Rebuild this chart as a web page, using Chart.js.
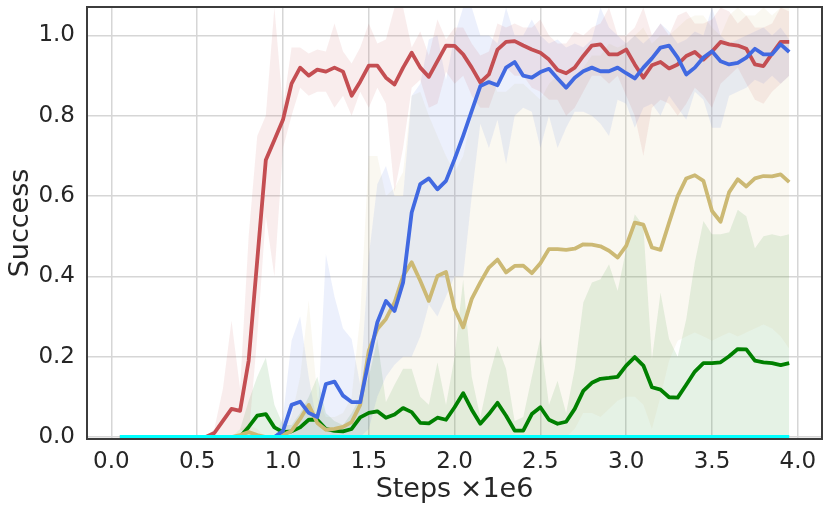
<!DOCTYPE html>
<html>
<head>
<meta charset="utf-8">
<script src="https://cdn.jsdelivr.net/npm/chart.js@4.4.1/dist/chart.umd.min.js"></script>
<style>
  body { margin: 0; background: #fff; }
</style>
</head>
<body>
<canvas id="myChart" width="830" height="511"></canvas>
<script>
// training steps (x1e6)
const steps = [0.05,0.10,0.15,0.20,0.25,0.30,0.35,0.40,0.45,0.50,
  0.55,0.60,0.65,0.70,0.75,0.80,0.85,0.90,0.95,1.00,
  1.05,1.10,1.15,1.20,1.25,1.30,1.35,1.40,1.45,1.50,
  1.55,1.60,1.65,1.70,1.75,1.80,1.85,1.90,1.95,2.00,
  2.05,2.10,2.15,2.20,2.25,2.30,2.35,2.40,2.45,2.50,
  2.55,2.60,2.65,2.70,2.75,2.80,2.85,2.90,2.95,3.00,
  3.05,3.10,3.15,3.20,3.25,3.30,3.35,3.40,3.45,3.50,
  3.55,3.60,3.65,3.70,3.75,3.80,3.85,3.90,3.95];

const xTicks = [0, 0.5, 1, 1.5, 2, 2.5, 3, 3.5, 4];
const yTicks = [0, 0.2, 0.4, 0.6, 0.8, 1.0];

// mean success per run
const redMean = [0,0,0,0,0,0,0,0,0,0,0,0.01,0.04,0.07,0.065,0.19,0.44,0.69,0.74,0.79,
  0.88,0.92,0.90,0.915,0.91,0.92,0.91,0.85,0.885,0.925,
  0.925,0.895,0.878,0.92,0.957,0.92,0.897,0.936,0.975,0.974,
  0.953,0.92,0.883,0.903,0.965,0.984,0.986,0.975,0.965,0.957,
  0.94,0.914,0.906,0.92,0.949,0.975,0.978,0.953,0.953,0.965,
  0.928,0.895,0.926,0.934,0.918,0.928,0.949,0.959,0.94,0.96,
  0.984,0.978,0.975,0.967,0.928,0.924,0.955,0.984,0.984];
const blueMean = [0,0,0,0,0,0,0,0,0,0,0,0,0,0,0,0,0,0,0,
  0.015,0.08,0.088,0.06,0.05,0.132,0.138,0.103,0.087,0.087,0.19,
  0.286,0.339,0.314,0.385,0.559,0.63,0.644,0.617,0.638,0.692,
  0.75,0.812,0.874,0.884,0.876,0.92,0.934,0.9,0.895,0.909,
  0.917,0.893,0.87,0.895,0.911,0.92,0.911,0.911,0.92,0.906,
  0.893,0.92,0.943,0.97,0.975,0.945,0.903,0.92,0.945,0.961,
  0.936,0.928,0.932,0.945,0.967,0.953,0.953,0.978,0.959];
const tanMean = [0,0,0,0,0,0,0,0,0,0,0,0,0,0,
  0.005,0.012,0.005,0,0,0.005,
  0.015,0.045,0.08,0.035,0.018,0.02,0.025,0.037,0.08,0.215,
  0.269,0.294,0.335,0.401,0.435,0.389,0.339,0.401,0.411,0.319,
  0.273,0.344,0.385,0.422,0.442,0.41,0.426,0.427,0.408,0.433,
  0.468,0.468,0.466,0.469,0.48,0.479,0.475,0.464,0.447,0.476,
  0.534,0.529,0.472,0.466,0.534,0.6,0.644,0.652,0.638,0.563,
  0.536,0.61,0.642,0.624,0.644,0.65,0.649,0.654,0.635];
const greenMean = [0,0,0,0,0,0,0,0,0,0,0,0,0,0,0,
  0.025,0.053,0.057,0.024,0.012,
  0.014,0.024,0.043,0.043,0.02,0.015,0.014,0.02,0.049,0.06,
  0.064,0.048,0.056,0.072,0.062,0.035,0.034,0.048,0.043,0.074,
  0.109,0.068,0.033,0.057,0.085,0.053,0.016,0.016,0.057,0.074,
  0.043,0.033,0.038,0.07,0.115,0.135,0.145,0.147,0.15,0.178,
  0.199,0.178,0.124,0.118,0.099,0.098,0.13,0.163,0.184,0.184,
  0.186,0.201,0.219,0.218,0.19,0.186,0.184,0.179,0.184];
const cyanMean = [0,0,0,0,0,0,0,0,0,0,0,0,0,0,0,0,0,0,0,0,
  0,0,0,0,0,0,0,0,0,0,0,0,0,0,0,0,0,0,0,0,
  0,0,0,0,0,0,0,0,0,0,0,0,0,0,0,0,0,0,0,0,
  0,0,0,0,0,0,0,0,0,0,0,0,0,0,0,0,0,0,0];

// shaded spread (low / high)
const redLow = [0,0,0,0,0,0,0,0,0,0,0,0,0,0,0.02,0,0.25,0.55,0.4,0.72,
  0.8,0.87,0.85,0.86,0.86,0.82,0.85,0.80,0.86,0.82,
  0.87,0.83,0.61,0.72,0.87,0.89,0.82,0.83,0.91,0.88,
  0.9,0.85,0.82,0.82,0.88,0.92,0.9,0.9,0.87,0.86,
  0.84,0.84,0.8,0.82,0.86,0.9,0.9,0.88,0.9,0.85,
  0.8,0.7,0.82,0.84,0.83,0.8,0.83,0.87,0.85,0.82,
  0.88,0.9,0.92,0.88,0.84,0.83,0.86,0.88,0.9];
const redHigh = [0,0,0,0,0,0,0,0,0,0,0,0.02,0.12,0.29,0.12,0.5,0.75,0.8,1.07,0.82,
  0.97,0.97,0.955,0.965,0.96,1.03,0.96,0.93,0.97,1.03,
  0.98,0.99,1.07,1.07,0.97,1.01,0.95,1.04,0.99,1.02,
  1.02,0.98,0.95,0.96,1.03,1.02,1.03,1.02,1.02,1.04,
  1.0,0.98,0.98,1.01,1.0,1.02,1.03,1.07,1.0,1.0,
  1.02,1.07,1.0,1.03,1.0,1.05,1.06,1.03,1.03,1.04,
  1.07,1.06,1.03,1.05,1.02,1.02,1.03,1.07,1.06];
const blueLow = [0,0,0,0,0,0,0,0,0,0,0,0,0,0,0,0,0,0,0,0,
  0,0,0,0,0,0,0,0,0,0.02,
  0.1,0.15,0.18,0.2,0.2,0.25,0.33,0.3,0.35,0.4,
  0.4,0.6,0.78,0.72,0.79,0.68,0.8,0.82,0.81,0.72,
  0.8,0.72,0.77,0.81,0.81,0.8,0.78,0.75,0.84,0.83,
  0.77,0.82,0.83,0.8,0.85,0.82,0.79,0.86,0.84,0.77,
  0.77,0.85,0.86,0.87,0.89,0.88,0.9,0.88,0.9];
const blueHigh = [0,0,0,0,0,0,0,0,0,0,0,0,0,0,0,0,0,0,0,0.05,
  0.24,0.30,0.15,0.03,0.455,0.35,0.27,0.244,0.13,0.45,
  0.63,0.675,0.6,0.6,0.85,0.88,0.99,1.0,0.89,1.0,
  1.07,1.07,1.0,1.0,0.98,1.07,1.0,1.0,1.04,1.0,
  0.98,0.99,0.97,0.98,0.97,0.99,1.07,1.02,1.0,0.98,
  1.0,0.98,1.0,1.03,1.01,0.98,0.99,1.01,1.0,1.07,
  1.0,0.98,0.99,1.0,1.01,1.02,1.0,1.02,0.99];
const tanLow = [0,0,0,0,0,0,0,0,0,0,0,0,0,0,0,0,0,0,0,0,
  0,0,0,0,0,0,0,0,0,0,0,0,0,0,0,0,0,0,0,0,
  0,0,0,0,0,0,0,0,0,0,0,0,0,0.02,0.06,0.06,0.05,0.07,0.09,0.1,
  0.1,0.08,0.02,0.1,0.19,0.24,0.25,0.26,0.25,0.24,
  0.25,0.26,0.25,0.26,0.27,0.28,0.27,0.25,0.22];
const tanHigh = [0,0,0,0,0,0,0,0,0,0,0,0,0,0,0.02,0.03,0.02,0,0,0.02,
  0.05,0.15,0.34,0.1,0.05,0.05,0.06,0.1,0.3,0.7,
  0.7,0.6,0.62,0.66,0.85,0.86,0.8,0.75,0.7,0.66,
  0.7,0.8,0.88,0.9,0.86,0.86,0.88,0.88,0.86,0.84,
  0.88,0.9,0.88,0.9,0.92,0.95,0.95,0.98,0.97,0.98,
  1.0,1.02,0.98,1.0,1.0,1.02,1.04,1.05,1.05,1.02,
  1.0,1.05,1.07,1.05,1.05,1.07,1.05,1.07,1.07];
const greenLow = [0,0,0,0,0,0,0,0,0,0,0,0,0,0,0,0,0,0,0,0,
  0,0,0,0,0,0,0,0,0,0,0,0,0,0,0,0,0,0,0,0,
  0,0,0,0,0,0,0,0,0,0,0,0,0,0,0,0,0,0,0,0,
  0,0,0,0,0,0,0,0,0,0,0,0,0,0,0,0,0,0,0];
const greenHigh = [0,0,0,0,0,0,0,0,0,0,0,0,0,0,0.02,0.09,0.15,0.198,0.08,0.03,
  0.03,0.06,0.1,0.15,0.06,0.04,0.03,0.06,0.1,0.15,
  0.244,0.087,0.13,0.17,0.17,0.1,0.08,0.186,0.08,0.2,
  0.393,0.15,0.05,0.15,0.227,0.17,0.04,0.05,0.15,0.248,
  0.08,0.14,0.06,0.17,0.335,0.385,0.393,0.43,0.364,0.468,
  0.555,0.526,0.194,0.36,0.244,0.2,0.294,0.435,0.538,0.505,
  0.505,0.51,0.566,0.55,0.47,0.5,0.505,0.5,0.505];

function pts(arr) {
    return steps.map((x, i) => ({ x: x, y: arr[i] }));
}

function line(arr, color, order) {
    return {
        data: pts(arr),
        borderColor: color,
        borderWidth: 3.8,
        pointRadius: 0,
        tension: 0,
        fill: false,
        borderJoinStyle: 'round',
        order: order
    };
}

function band(low, high, rgb) {
    return [
        { data: pts(low), borderWidth: 0, pointRadius: 0, fill: false, order: 10 },
        { data: pts(high), borderWidth: 0, pointRadius: 0, fill: '-1',
          backgroundColor: `rgba(${rgb},0.1)`, order: 10 }
    ];
}

const datasets = [
    line(cyanMean, '#00ffff', 0),
    line(blueMean, '#4169e1', 1),
    line(redMean, '#c44e52', 2),
    line(tanMean, '#ccb974', 3),
    line(greenMean, '#008000', 4),
    ...band(redLow, redHigh, '196,78,82'),
    ...band(blueLow, blueHigh, '65,105,225'),
    ...band(tanLow, tanHigh, '204,185,116'),
    ...band(greenLow, greenHigh, '0,128,0')
];

// box around the plot like matplotlib spines
const frame = {
    id: 'frame',
    afterDatasetsDraw(chart) {
        const { ctx, chartArea: a } = chart;
        ctx.save();
        ctx.strokeStyle = '#3c3c3c';
        ctx.lineWidth = 2;
        ctx.strokeRect(a.left, a.top, a.right - a.left, a.bottom - a.top);
        ctx.restore();
    }
};

const tickFont = { family: 'DejaVu Sans', size: 23 };
const titleFont = { family: 'DejaVu Sans', size: 27 };

const config = {
    type: 'line',
    data: { datasets: datasets },
    options: {
        responsive: false,
        animation: false,
        layout: { padding: { left: 0, right: 8, top: 7, bottom: 0 } },
        plugins: { legend: { display: false }, tooltip: { enabled: false } },
        scales: {
            x: {
                type: 'linear',
                min: -0.142,
                max: 4.141,
                afterBuildTicks: s => { s.ticks = xTicks.map(v => ({ value: v })); },
                afterFit: s => { s.height = 72; s.paddingLeft = 0; s.paddingRight = 0; },
                grid: { color: '#d6d6d6', lineWidth: 1.5, drawTicks: false },
                border: { display: false },
                ticks: { padding: 9, color: '#262626', font: tickFont, maxRotation: 0, autoSkip: false,
                         callback: v => v.toFixed(1) },
                title: { display: true, text: 'Steps ×1e6', color: '#262626', font: titleFont,
                         padding: { top: 0, bottom: 5 } }
            },
            y: {
                min: -0.005,
                max: 1.071,
                afterBuildTicks: s => { s.ticks = yTicks.map(v => ({ value: v })); },
                afterFit: s => { s.width = 87; s.paddingTop = 0; s.paddingBottom = 0; },
                grid: { color: '#d6d6d6', lineWidth: 1.5, drawTicks: false },
                border: { display: false },
                ticks: { padding: 12, color: '#262626', font: tickFont,
                         callback: v => v.toFixed(1) },
                title: { display: true, text: 'Success', color: '#262626', font: titleFont,
                         padding: { top: 5, bottom: 0 } }
            }
        }
    },
    plugins: [frame]
};

const myChart = new Chart(document.getElementById('myChart'), config);
</script>
</body>
</html>
